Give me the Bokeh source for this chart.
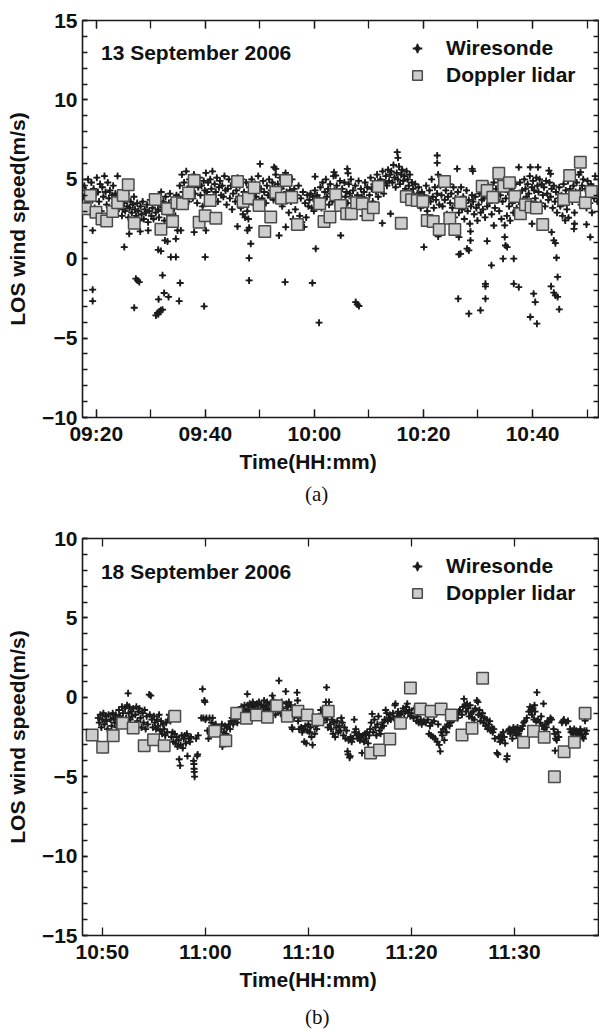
from bokeh.plotting import figure
from bokeh.models import (Range1d, FixedTicker, LinearAxis, Legend, LegendItem,
                          Label, Title, ColumnDataSource, Div)
from bokeh.layouts import column
from bokeh.embed import file_html
from bokeh.resources import INLINE

SANS = "Liberation Sans"
SERIF = "Liberation Serif"
INK = "#1a1a1a"

# ---------------- panel (a): 13 September 2006, minutes after 09:00 ----------------
lidar_a_time = [17.98, 18.90, 19.94, 21.04, 21.90, 23.0, 23.92, 24.94, 25.86, 26.96,
                30.80, 31.85, 33.07, 33.99, 34.78, 35.82, 36.92, 37.95, 38.86, 39.96, 40.88, 41.92,
                45.90, 46.92, 47.91, 48.94, 49.85, 50.90, 51.99, 52.91, 53.95, 54.80, 55.84, 56.88,
                60.97, 61.76, 62.85, 63.90, 64.81, 65.91, 66.77, 67.74, 68.79, 69.81, 70.80, 71.72,
                75.93, 76.85, 77.82, 78.86, 79.89, 80.69, 81.79, 82.89, 83.86, 84.83, 85.75, 86.79,
                90.77, 91.68, 92.71, 93.81, 94.72, 95.77, 96.74, 97.78,
                98.70, 99.74, 100.71, 101.87,
                105.71, 106.81, 107.73, 108.77, 109.69, 110.79]
lidar_a_speed = [3.14, 3.98, 2.93, 2.50, 2.37, 2.97, 3.52, 3.98, 4.65, 2.24,
                 3.73, 1.86, 3.14, 2.35, 3.52, 3.46, 4.13, 4.92, 2.30, 2.70, 3.67, 2.55,
                 4.86, 3.60, 3.81, 4.47, 3.35, 1.72, 2.62, 4.19, 3.81, 4.92, 3.87, 2.16,
                 3.46, 2.35, 2.62, 4.02, 3.35, 2.83, 2.83, 3.52, 3.46, 2.77, 3.21, 4.55,
                 2.24, 3.92, 3.71, 3.67, 3.60, 2.41, 2.35, 1.84, 4.86, 2.55, 1.84, 3.52,
                 4.57, 4.30, 3.87, 5.38, 4.57, 4.78, 3.92, 2.83,
                 3.40, 3.25, 3.20, 2.16,
                 3.73, 5.24, 3.92, 6.08, 3.52, 4.23]

wire_a_time = [
    17.6, 17.8, 17.95,
    18.1, 18.3, 18.5, 18.7, 18.9,
    19.1, 19.3, 19.5, 19.7, 19.9,
    20.1, 20.3, 20.5, 20.7, 20.9,
    21.1, 21.3, 21.5, 21.7, 21.9,
    22.1, 22.3, 22.5, 22.7, 22.9,
    23.1, 23.3, 23.5, 23.7, 23.9,
    24.1, 24.3, 24.5, 24.7, 24.9,
    25.1, 25.3, 25.5, 25.7, 25.9,
    26.1, 26.3, 26.5, 26.7, 26.9,
    27.1, 27.3, 27.5, 27.7, 27.9,
    28.1, 28.3, 28.5, 28.7, 28.9,
    29.1, 29.3, 29.5, 29.7, 29.9,
    30.1, 30.3, 30.5, 30.7, 30.9,
    31.1, 31.3, 31.5, 31.7, 31.9,
    32.1, 32.3, 32.5, 32.7, 32.9,
    33.1, 33.3, 33.5, 33.7, 33.9,
    34.1, 34.3, 34.5, 34.7, 34.9,
    35.1, 35.3, 35.5, 35.7, 35.9,
    36.1, 36.3, 36.5, 36.7, 36.9,
    37.1, 37.3, 37.5, 37.7, 37.9,
    38.1, 38.3, 38.5, 38.7, 38.9,
    39.1, 39.3, 39.5, 39.7, 39.9,
    40.1, 40.3, 40.5, 40.7, 40.9,
    41.1, 41.3, 41.5, 41.7, 41.9,
    42.1, 42.3, 42.5, 42.7, 42.9,
    43.1, 43.3, 43.5, 43.7, 43.9,
    44.1, 44.3, 44.5, 44.7, 44.9,
    45.1, 45.3, 45.5, 45.7, 45.9,
    46.1, 46.3, 46.5, 46.7, 46.9,
    47.1, 47.3, 47.5, 47.7, 47.9,
    48.1, 48.3, 48.5, 48.7, 48.9,
    49.1, 49.3, 49.5, 49.7, 49.9,
    50.2, 50.4, 50.6, 50.8,
    51.1, 51.3, 51.5, 51.7, 51.9,
    52.1, 52.3, 52.5, 52.7, 52.9,
    53.1, 53.3, 53.5, 53.7, 53.9,
    54.1, 54.3, 54.5, 54.7, 54.9,
    55.1, 55.3, 55.5, 55.7, 55.9,
    56.1, 56.3, 56.5, 56.7, 56.9,
    57.1, 57.3, 57.5, 57.7, 57.9,
    58.1, 58.3, 58.5, 58.7, 58.9,
    59.1, 59.3, 59.5, 59.7, 59.9,
    60.1, 60.3, 60.5, 60.7, 60.9,
    61.1, 61.3, 61.5, 61.7, 61.9,
    62.1, 62.3, 62.5, 62.7, 62.9,
    63.1, 63.3, 63.5, 63.7, 63.9,
    64.1, 64.3, 64.5, 64.7, 64.9,
    65.1, 65.3, 65.5, 65.7, 65.9,
    66.1, 66.3, 66.5, 66.7, 66.9,
    67.1, 67.3, 67.5, 67.7, 67.9,
    68.1, 68.3, 68.5, 68.7, 68.9,
    69.1, 69.3, 69.5, 69.7, 69.9,
    70.1, 70.3, 70.5, 70.7, 70.9,
    71.1, 71.3, 71.5, 71.7, 71.9,
    72.1, 72.3, 72.5, 72.7, 72.9,
    73.1, 73.3, 73.5, 73.7, 73.9,
    74.1, 74.3, 74.5, 74.7, 74.9,
    75.1, 75.3, 75.5, 75.7, 75.9,
    76.1, 76.3, 76.5, 76.7, 76.9,
    77.1, 77.3, 77.5, 77.7, 77.9,
    78.1, 78.3, 78.5, 78.7, 78.9,
    79.1, 79.3, 79.5, 79.7, 79.9,
    80.1, 80.3, 80.5, 80.7, 80.9,
    81.1, 81.3, 81.5, 81.7, 81.9,
    82.1, 82.3, 82.5, 82.7, 82.9,
    83.1, 83.3, 83.5, 83.7, 83.9,
    84.1, 84.3, 84.5, 84.7, 84.9,
    85.1, 85.3, 85.5, 85.7, 85.9,
    86.1, 86.3, 86.5, 86.7, 86.9,
    87.1, 87.3, 87.5, 87.7, 87.9,
    88.1, 88.3, 88.5, 88.7, 88.9,
    89.1, 89.3, 89.5, 89.7, 89.9,
    90.1, 90.3, 90.5, 90.7, 90.9,
    91.1, 91.3, 91.5, 91.7, 91.9,
    92.1, 92.3, 92.5, 92.7, 92.9,
    93.1, 93.3, 93.5, 93.7, 93.9,
    94.1, 94.3, 94.5, 94.7, 94.9,
    95.1, 95.3, 95.5, 95.7, 95.9,
    96.1, 96.3, 96.5, 96.7, 96.9,
    97.1, 97.3, 97.5, 97.7, 97.9,
    98.1, 98.3, 98.5, 98.7, 98.9,
    99.1, 99.3, 99.5, 99.7, 99.9,
    100.1, 100.3, 100.5, 100.7, 100.9,
    101.1, 101.3, 101.5, 101.7, 101.9,
    102.1, 102.3, 102.5, 102.7, 102.9,
    103.1, 103.3, 103.5, 103.7, 103.9,
    104.1, 104.3, 104.5, 104.7, 104.9,
    105.1, 105.3, 105.5, 105.7, 105.9,
    106.1, 106.3, 106.5, 106.7, 106.9,
    107.1, 107.3, 107.5, 107.7, 107.9,
    108.1, 108.3, 108.5, 108.7, 108.9,
    109.1, 109.3, 109.5, 109.7, 109.9,
    110.1, 110.3, 110.5, 110.7, 110.9,
    111.1, 111.3, 111.5, 111.7, 111.9,
]
wire_a_speed = [
    3.9, 4.6, 3.1,
    4.3, 3.5, 5.0, 4.0, 2.9,
    4.8, 3.7, 4.4, 3.2, 4.1,
    5.1, 4.2, 3.6, 4.7, 3.0,
    4.5, 3.9, 5.2, 4.2, 3.4,
    4.8, 3.8, 4.3, 2.8, 4.0,
    4.6, 3.5, 4.1, 3.0, 5.2,
    4.0, 3.3, 3.7, 2.7, 3.1,
    3.5, 3.0, 4.1, 3.3, 2.6,
    3.2, 3.6, 2.9, 3.4, 3.9,
    3.1, 2.7, 3.5, 3.0, 2.4,
    3.3, 2.8, 3.6, 2.5, 3.1,
    2.9, 3.4, 2.3, 3.0, 3.7,
    2.7, 3.2, 2.5, 3.5, 2.9,
    3.8, 3.1, 2.6, 3.4, 4.2,
    3.0, 3.6, 2.4, 3.9, 3.3,
    2.8, 3.5, 4.1, 3.0, 2.5,
    3.7, 3.2, 2.7, 4.0, 3.4,
    3.9, 4.6, 3.5, 5.3, 4.2,
    4.8, 3.9, 5.5, 4.4, 3.6,
    5.0, 4.3, 4.7, 3.8, 5.3,
    4.1, 4.9, 3.5, 4.5, 5.1,
    4.0, 4.6, 3.3, 4.9, 4.3,
    5.4, 4.2, 4.8, 3.7, 5.0,
    4.4, 5.5, 3.9, 4.7, 4.2,
    5.1, 3.6, 4.5, 4.9, 4.0,
    4.6, 3.9, 5.2, 4.3, 3.4,
    4.4, 5.0, 3.8, 4.6, 3.1,
    4.1, 4.8, 3.6, 4.3, 5.1,
    3.9, 4.6, 3.2, 5.0, 2.8,
    4.2, 2.6, 4.8, 3.0, 2.5,
    4.5, 3.6, 5.0, 4.1, 3.4,
    4.7, 3.9, 4.3, 5.2, 3.6,
    4.4, 3.8, 4.9, 4.2,
    3.5, 4.6, 4.0, 5.0, 3.9,
    4.3, 4.8, 3.7, 4.5, 5.3,
    4.1, 4.7, 3.9, 5.1, 4.4,
    3.3, 4.6, 4.0, 5.4, 4.2,
    4.8, 2.9, 4.3, 3.6, 5.0,
    2.5, 4.4, 3.1, 4.0, 2.2,
    4.6, 2.7, 3.8, 2.3, 4.2,
    2.0, 3.5, 2.6, 4.0, 3.3,
    3.7, 4.1, 3.2, 3.9, 3.0,
    4.3, 3.6, 4.0, 3.4, 3.8,
    4.5, 3.2, 4.8, 3.7, 4.2,
    5.0, 3.9, 4.4, 3.4, 4.7,
    4.1, 3.6, 5.2, 4.3, 3.8,
    4.6, 3.3, 4.0, 4.9, 3.7,
    4.4, 3.0, 4.8, 3.9, 4.2,
    3.5, 4.7, 4.1, 5.0, 3.8,
    4.3, 2.9, 4.6, 3.6, 4.0,
    4.9, 3.4, 4.4, 3.9, 2.7,
    4.2, 4.8, 3.7, 4.5, 3.3,
    4.0, 5.1, 4.4, 3.6, 4.7,
    4.9, 4.2, 5.3, 3.9, 4.6,
    5.0, 4.4, 5.5, 4.1, 4.8,
    5.2, 4.6, 5.6, 4.9, 5.3,
    5.5, 4.8, 5.9, 5.1, 4.5,
    5.4, 5.0, 5.8, 4.7, 5.3,
    5.6, 4.9, 5.2, 4.4, 5.5,
    5.0, 4.6, 5.3, 4.2, 4.8,
    4.4, 3.9, 4.7, 3.5, 4.1,
    4.5, 3.8, 3.2, 4.2, 3.6,
    4.0, 3.4, 4.6, 3.0, 3.8,
    4.3, 3.6, 5.0, 3.9, 3.2,
    4.5, 3.7, 4.1, 5.3, 3.4,
    4.6, 4.0, 3.3, 4.9, 3.7,
    4.3, 2.8, 3.9, 4.7, 3.5,
    4.1, 3.2, 4.5, 2.6, 3.8,
    3.4, 4.2, 2.9, 3.7, 4.5,
    3.1, 3.9, 2.5, 3.5, 4.3,
    3.0, 3.7, 2.2, 3.3, 4.0,
    3.6, 2.8, 3.9, 3.2, 2.4,
    3.4, 4.1, 2.9, 3.7, 3.1,
    3.8, 2.6, 4.3, 3.3, 4.6,
    3.5, 4.2, 2.8, 3.9, 4.8,
    3.2, 4.4, 3.7, 5.1, 3.0,
    4.0, 2.5, 3.6, 4.5, 2.1,
    3.8, 2.7, 4.2, 3.3, 2.4,
    4.4, 3.5, 2.9, 3.9, 4.7,
    3.2, 4.1, 3.6, 4.8, 3.0,
    4.3, 3.7, 5.0, 4.4, 3.9,
    4.7, 4.1, 5.2, 3.6, 4.5,
    4.9, 4.3, 3.8, 5.1, 4.6,
    4.2, 5.0, 3.5, 4.7, 4.0,
    4.5, 3.3, 4.9, 4.1, 3.7,
    4.8, 3.9, 4.4, 3.2, 4.6,
    3.6, 4.2, 2.9, 3.8, 4.5,
    3.3, 4.0, 2.7, 4.7, 3.5,
    4.3, 3.1, 4.9, 3.8, 4.4,
    5.1, 3.6, 4.6, 2.9, 4.2,
    4.8, 3.9, 5.3, 4.3, 3.4,
    4.6, 5.0, 3.7, 4.4, 3.2,
    4.9, 4.1, 3.5, 4.7, 2.9,
    4.3, 3.8, 5.2, 4.0, 3.6,
]

# isolated wiresonde readings away from the main band (panel a)
wire_a_out_time = [19.33, 19.33, 19.33, 25.13, 26.04, 26.96, 27.26, 27.57, 27.88, 28.06, 29.52,
                   31.36, 31.84, 32.15, 31.42, 32.45, 33.25, 30.93, 31.23, 31.54, 31.84, 32.15, 31.36,
                   32.58, 33.06, 33.67, 34.59, 34.59, 35.38, 35.2, 34.9, 35.5, 37.95, 39.96, 39.78, 40.1,
                   50.04, 45.89, 47.72, 48.03, 48.33, 48.03, 48.03, 53.52, 54.62, 54.74, 59.63, 60.24,
                   60.85, 64.82, 67.57, 67.87, 68.17,
                   52.6, 52.9, 60.12, 66.04, 66.16, 63.6, 63.9,
                   75.19, 75.32, 82.52, 82.52, 86.18, 88.93, 89.05, 97.48, 72.45, 73.97, 80.08, 82.7,
                   86.49, 86.79, 88.0, 88.32, 88.62, 88.62, 88.32, 90.46, 86.37, 91.37, 91.37, 91.37,
                   91.68, 92.47, 94.6, 96.56, 95.04, 95.34, 96.56, 97.48, 92.9, 94.9, 86.5,
                   99.6, 101.0, 99.9, 100.2, 100.5, 99.6, 100.8, 103.4, 103.9, 104.2, 104.6, 104.9,
                   104.6, 104.4, 104.2, 103.9, 103.5, 106.0, 106.6, 107.6, 107.7, 109.9, 110.6,
                   103.0, 103.3, 108.8]
wire_a_out_speed = [1.78, -1.95, -2.67, 0.73, 1.57, -3.09, -1.26, -1.37, -1.47, 1.72, 1.78,
                    0.56, 0.48, -1.05, -2.56, -2.16, -2.41, -3.57, -3.42, -3.32, -3.25, -3.21, -3.5,
                    1.15, 1.09, 0.1, 0.1, 1.25, -1.53, -2.67, 1.78, 1.78, 1.67, 0.1, -3.0, 1.78,
                    5.97, 2.03, 1.78, 1.95, 0.94, 0.04, -1.37, 1.46, -1.47, 1.99, -1.53, 0.63,
                    -4.03, 1.46, -2.73, -2.88, -2.98,
                    5.76, 5.66, 5.17, 5.66, 5.38, 5.45, 5.24,
                    6.71, 6.35, 6.5, 6.03, 5.66, 5.66, 5.51, 5.76, 2.24, 2.83, 0.73, 1.4,
                    0.27, 0.31, 0.63, 0.52, 1.15, 1.72, -3.46, -3.25, -2.52, -2.52, -1.58, -1.74,
                    1.11, -0.42, 0.0, 0.0, 0.83, 0.73, -1.58, -1.79, 2.09, 1.36, 1.36,
                    5.76, 5.76, 2.2, -2.2, -2.73, -3.67, -4.09, -1.74, -2.14, -2.31, -2.41, -3.19,
                    -1.15, 0.06, 0.98, 1.15, 1.67, 2.41, 2.58, 1.88, 2.2, 2.16, 1.36,
                    5.55, 5.34, 5.45]

x_range_a = (17.47, 112.1)
y_range_a = (-10, 15)
x_ticks_a = [20, 40, 60, 80, 100]
x_tick_labels_a = ["09:20", "09:40", "10:00", "10:20", "10:40"]
x_minor_a = [20, 30, 40, 50, 60, 70, 80, 90, 100, 110]
y_ticks_a = [-10, -5, 0, 5, 10, 15]
y_minor_a = [-10, -9, -8, -7, -6, -5, -4, -3, -2, -1, 0, 1, 2, 3, 4, 5,
             6, 7, 8, 9, 10, 11, 12, 13, 14, 15]

# ---------------- panel (b): 18 September 2006, minutes after 10:00 ----------------
lidar_b_time = [49.0, 50.03, 51.05, 51.97, 52.99, 54.06, 54.97, 56.0, 57.03,
                60.91, 61.98, 63.04, 63.98, 64.95, 66.02, 66.92, 67.95, 68.98, 69.89, 70.92, 71.93,
                76.03, 76.9, 77.9, 78.93, 79.9, 80.87, 81.91, 82.88, 83.87, 84.91, 85.88, 86.91,
                90.88, 91.85, 92.89, 93.88, 94.82, 95.82, 96.86]
lidar_b_speed = [-2.37, -3.15, -2.42, -1.64, -1.93, -3.05, -2.67, -3.05, -1.2,
                 -2.14, -2.73, -1.01, -1.32, -1.11, -1.26, -0.53, -1.2, -0.88, -1.11, -1.41, -0.88,
                 -3.51, -3.32, -2.63, -1.64, 0.59, -0.74, -0.88, -0.74, -1.11, -2.37, -1.95, 1.2,
                 -2.83, -2.14, -2.52, -5.0, -3.43, -2.83, -1.01]

wire_b_time = [
    49.6, 49.7, 49.8, 49.9,
    50.0, 50.1, 50.2, 50.3, 50.4, 50.5, 50.6, 50.8, 50.9,
    51.0, 51.1, 51.2, 51.3, 51.4, 51.5, 51.6, 51.7, 51.8, 51.9,
    52.0, 52.1, 52.2, 52.3, 52.4, 52.5, 52.55, 52.6, 52.7, 52.8, 52.9,
    53.0, 53.1, 53.2, 53.3, 53.4, 53.5, 53.6, 53.7, 53.8, 53.9,
    54.0, 54.1, 54.2, 54.3, 54.4, 54.55, 54.6, 54.7, 54.8, 54.9,
    55.0, 55.1, 55.2, 55.3, 55.4, 55.5, 55.6, 55.7, 55.8, 55.9,
    56.0, 56.1, 56.2, 56.3, 56.4, 56.5, 56.6, 56.7, 56.8, 56.9,
    57.0, 57.1, 57.2, 57.3, 57.4, 57.46, 57.55, 57.6, 57.7, 57.8, 57.9,
    58.0, 58.1, 58.2, 58.26, 58.4, 58.5, 58.6, 58.85, 58.88, 58.9, 58.92, 58.95,
    59.1, 59.2, 59.25, 59.3, 59.6, 59.72, 59.8, 59.9, 59.95,
    60.0, 60.1, 60.2, 60.3, 60.4, 60.5, 60.6, 60.7, 60.8, 60.9,
    61.0, 61.2, 61.3, 61.5, 61.6, 61.65, 61.7, 61.8, 61.9,
    62.0, 62.1, 62.2, 62.3, 62.4, 62.5, 62.6, 62.7, 62.8, 62.9,
    63.0, 63.1, 63.2, 63.3, 63.4, 63.5, 63.6, 63.7, 63.8, 63.9,
    64.07, 64.1, 64.2, 64.3, 64.4, 64.5, 64.6, 64.7, 64.8, 64.9,
    65.0, 65.1, 65.2, 65.3, 65.4, 65.5, 65.6, 65.7, 65.8, 65.9,
    66.0, 66.1, 66.2, 66.3, 66.4, 66.5, 66.6, 66.7, 66.8, 66.9,
    67.0, 67.14, 67.2, 67.3, 67.4, 67.5, 67.6, 67.8, 67.85, 67.9,
    68.0, 68.1, 68.2, 68.3, 68.4, 68.45, 68.5, 68.6, 68.7, 68.8, 68.9, 68.95,
    69.0, 69.1, 69.2, 69.3, 69.4, 69.5, 69.6, 69.7, 69.8, 69.9,
    70.0, 70.1, 70.2, 70.3, 70.4, 70.5, 70.6, 70.7, 70.8, 70.9,
    71.0, 71.1, 71.2, 71.3, 71.4, 71.5, 71.6, 71.7, 71.76, 71.8, 71.9,
    72.0, 72.1, 72.2, 72.3, 72.4, 72.5, 72.6, 72.7, 72.8, 72.9,
    73.0, 73.1, 73.2, 73.3, 73.4, 73.5, 73.6, 73.7, 73.8, 73.85, 73.9,
    74.0, 74.05, 74.1, 74.2, 74.3, 74.45, 74.5, 74.6, 74.7, 74.8, 74.9,
    75.0, 75.1, 75.2, 75.3, 75.4, 75.5, 75.6, 75.7, 75.8, 75.9,
    76.0, 76.1, 76.19, 76.3, 76.4, 76.5, 76.6, 76.7, 76.8, 76.9,
    77.0, 77.1, 77.2, 77.3, 77.4, 77.5, 77.6, 77.7, 77.8, 77.9,
    78.0, 78.2, 78.3, 78.4, 78.45, 78.6, 78.7, 78.8, 78.9,
    79.0, 79.2, 79.3, 79.4, 79.5, 79.6, 79.7, 79.8, 79.9,
    80.0, 80.2, 80.3, 80.5, 80.6, 80.7, 80.9,
    81.0, 81.2, 81.4, 81.6, 81.7, 81.8, 81.9,
    82.0, 82.1, 82.2, 82.3, 82.5, 82.6, 82.7, 82.8, 82.9,
    83.0, 83.1, 83.2, 83.3, 83.4, 83.5, 83.7, 83.8, 83.9,
    84.1, 84.2, 84.4, 84.5, 84.6, 84.7, 84.9,
    85.0, 85.1, 85.2, 85.3, 85.4, 85.5, 85.6, 85.7, 85.8, 85.9,
    86.0, 86.1, 86.2, 86.35, 86.45, 86.5, 86.6, 86.7, 86.8, 86.9,
    87.0, 87.1, 87.2, 87.3, 87.4, 87.5, 87.6, 87.7, 87.8, 87.9,
    88.0, 88.1, 88.3, 88.4, 88.5, 88.6, 88.7, 88.8, 88.9,
    89.0, 89.1, 89.25, 89.3, 89.4, 89.5, 89.6, 89.7, 89.8, 89.9,
    90.0, 90.1, 90.2, 90.3, 90.4, 90.5, 90.6, 90.7, 90.8, 90.9,
    91.0, 91.2, 91.4, 91.5, 91.6, 91.7, 91.8, 91.9, 91.95,
    92.0, 92.1, 92.18, 92.3, 92.5, 92.6, 92.7, 92.82, 92.9,
    93.0, 93.1, 93.2, 93.3, 93.5, 93.6, 93.8, 93.9, 93.95,
    94.0, 94.1, 94.2, 94.3, 94.6, 94.7, 94.8, 95.0,
    95.2, 95.4, 95.5, 95.6, 95.7, 95.8, 95.9,
    96.0, 96.1, 96.2, 96.3, 96.4, 96.5, 96.6, 96.7, 96.8, 96.86, 96.9, 97.0,
]
wire_b_speed = [
    -1.3, -1.6, -1.1, -1.9,
    -1.4, -1.0, -1.7, -1.2, -1.5, -2.0, -1.1, -1.4, -1.8,
    -1.0, -1.3, -1.6, -1.1, -1.9, -1.4, -0.8, -1.2, -1.5, -0.6,
    -1.0, -1.7, -0.7, -1.3, -0.5, 0.25, -1.0, -0.6, -1.4, -0.9, -1.2,
    -0.7, -1.8, -1.1, -0.6, -1.5, -0.9, -0.7, -1.3, -1.9, -1.0,
    -1.6, -0.8, -2.0, -1.2, -1.7, 0.17, -1.1, 0.1, -1.4, -1.9,
    -1.2, -1.6, -2.0, -1.4, -1.8, -1.1, -2.1, -1.5, -2.3, -1.7,
    -2.0, -2.4, -1.6, -2.2, -1.4, -1.1, -1.5, -2.5, -2.2, -2.8,
    -2.3, -2.9, -2.5, -3.1, -2.7, -3.9, -4.3, -3.0, -2.4, -3.2, -2.6,
    -2.4, -2.9, -2.3, -3.7, -2.6, -2.8, -2.5, -4.0, -4.2, -4.5, -4.7, -5.0,
    -2.6, -3.7, -3.6, -2.4, -1.3, 0.52, -1.3, -0.2, -0.3,
    -1.4, -1.3, -2.1, -2.6, -1.3, -2.3, -1.6, -1.3, -1.8, -2.2,
    -1.7, -1.9, -2.1, -2.0, -1.7, -3.1, -2.4, -2.2, -1.8,
    -2.3, -1.9, -2.5, -1.7, -2.0, -1.5, -1.3, -1.7, -1.1, -1.4,
    -1.0, -1.6, -0.8, -1.2, -0.9, -0.6, -1.1, -0.7, -0.5, -0.9,
    0.2, -0.5, -0.8, -0.4, -0.9, -0.6, -0.3, -0.8, -0.5, -1.0,
    -0.4, -0.7, -0.3, -0.9, -0.5, -1.1, -0.6, -0.2, -0.8, -0.5,
    -0.3, -0.7, -1.0, -0.4, -0.8, 0.1, -0.2, -0.6, -1.1, -0.4,
    -0.8, 1.05, -0.5, -1.0, -0.3, -0.7, -1.2, 0.37, -0.4, -0.9,
    -0.6, -0.3, -1.0, -0.5, -1.9, -2.0, -0.8, -1.3, -0.6, -1.1, 0.3, -0.2,
    -1.5, -2.0, -1.2, -1.9, -2.2, -2.0, -2.8, -1.8, -2.9, -2.1,
    -1.7, -2.2, -1.9, -2.5, -3.0, -1.5, -2.3, -1.8, -2.0, -1.6,
    -1.2, -1.5, -0.8, -1.1, -1.6, -0.9, -1.3, -0.3, 0.62, -1.4, -1.9,
    -0.3, -1.7, -2.0, -1.4, -2.3, -1.6, -2.5, -1.9, -1.5, -2.2,
    -1.8, -2.1, -1.3, -1.6, -2.4, -1.9, -2.6, -2.1, -3.4, -3.6, -2.7,
    -3.8, -3.7, -2.5, -2.8, -2.6, -1.4, -2.2, -2.0, -2.4, -2.6, -2.3,
    -2.7, -2.5, -3.5, -2.4, -2.8, -2.3, -2.6, -2.2, -2.9, -2.4,
    -2.0, -1.6, -1.05, -2.2, -1.4, -1.9, -2.4, -1.7, -1.2, -2.1,
    -2.3, -1.9, -1.6, -1.8, -1.4, -0.8, -1.0, -1.5, -1.3, -1.1,
    -1.4, -1.0, -1.3, -0.5, -0.4, -1.2, -0.9, -1.4, -1.1,
    -1.0, -0.7, -1.3, -0.9, -0.6, -0.4, -1.0, -0.8, -1.2,
    -1.0, -1.3, -0.7, -1.5, -1.2, -1.6, -1.4,
    -1.7, -1.5, -1.6, -1.4, -2.3, -1.8, -2.4,
    -1.6, -2.5, -1.5, -2.6, -2.8, -1.7, -3.0, -3.4, -2.2,
    -2.4, -2.0, -2.7, -1.9, -2.2, -1.7, -1.8, -1.6, -1.5,
    -1.4, -1.2, -1.0, -1.3, -0.9, -0.8, -1.1,
    -0.6, -0.1, -0.5, -0.9, -0.4, -0.7, -1.2, -0.5, -1.0, -1.3,
    -0.9, -1.4, -0.7, -0.2, -0.3, -1.1, -0.8, -1.5, -1.2, -1.0,
    -1.6, -1.3, -1.8, -1.4, -2.0, -1.7, -1.5, -2.1, -1.9, -2.2,
    -2.0, -2.6, -3.5, -3.6, -2.5, -2.8, -2.4, -2.7, -2.2,
    -2.5, -2.9, -3.9, -3.7, -2.1, -2.0, -2.3, -2.1, -2.6, -1.9,
    -2.2, -2.0, -2.4, -1.9, -2.3, -2.1, -2.6, -2.0, -1.8, -1.6,
    -1.5, -1.3, -0.9, -0.6, -0.8, -1.1, -0.7, -1.4, -0.5,
    -0.9, -1.5, 0.31, -1.4, -1.6, -1.2, -1.8, -0.4, -2.0,
    -1.7, -1.9, -1.5, -1.6, -1.3, -1.4, -2.0, -2.3, -3.36,
    -2.6, -2.7, -2.2, -2.5, -1.6, -1.5, -1.4, -1.6,
    -1.5, -2.0, -2.2, -2.1, -2.3, -2.0, -2.2,
    -2.1, -2.3, -2.4, -2.2, -2.0, -2.3, -2.5, -2.6, -2.1, -1.47, -2.3, -2.1,
]

x_range_b = (48.07, 98.16)
y_range_b = (-15, 10)
x_ticks_b = [50, 60, 70, 80, 90]
x_tick_labels_b = ["10:50", "11:00", "11:10", "11:20", "11:30"]
x_minor_b = []
y_ticks_b = [-15, -10, -5, 0, 5, 10]
y_minor_b = [-15, -14, -13, -12, -11, -10, -9, -8, -7, -6, -5, -4, -3, -2, -1, 0,
             1, 2, 3, 4, 5, 6, 7, 8, 9, 10]


def style_axis(ax, tick_len, show_labels):
    ax.axis_line_color = None
    ax.major_tick_in = tick_len
    ax.major_tick_out = 0
    ax.minor_tick_in = tick_len
    ax.minor_tick_out = 0
    ax.major_tick_line_color = INK
    ax.minor_tick_line_color = INK
    ax.major_tick_line_width = 1.3
    ax.minor_tick_line_width = 1.3
    ax.major_label_text_font = SANS
    ax.major_label_text_font_style = "bold"
    ax.major_label_text_color = "#111111"
    if show_labels:
        ax.major_label_text_font_size = "21px"
    else:
        ax.major_label_text_font_size = "0px"
        ax.major_label_text_alpha = 0
        ax.major_label_standoff = 0


def make_panel(wt, wv, ot, ov, lt, lv, xr, yr, xt, xl, xminor, yt, yminor,
               date_text, date_x, date_y, height, top_border, bottom_border):
    p = figure(width=599, height=height, output_backend="svg", toolbar_location=None,
               x_range=Range1d(*xr), y_range=Range1d(*yr),
               min_border_left=82, min_border_right=1,
               min_border_top=top_border, min_border_bottom=bottom_border,
               background_fill_color="white", border_fill_color="white")
    p.grid.visible = False
    p.outline_line_color = INK
    p.outline_line_width = 1.6
    p.outline_line_alpha = 1.0

    xtick = FixedTicker(ticks=xt, minor_ticks=xminor)
    ytick = FixedTicker(ticks=yt, minor_ticks=yminor)

    bottom = p.below[0]
    bottom.ticker = xtick
    bottom.major_label_overrides = {t: s for t, s in zip(xt, xl)}
    style_axis(bottom, 8, True)
    bottom.major_label_standoff = 4

    left = p.left[0]
    left.ticker = ytick
    style_axis(left, 5, True)
    left.major_label_standoff = 5
    left.axis_label = "LOS wind speed(m/s)"
    left.axis_label_text_font = SANS
    left.axis_label_text_font_style = "bold"
    left.axis_label_text_font_size = "21px"
    left.axis_label_text_color = "#111111"
    left.axis_label_standoff = 10

    top = LinearAxis(ticker=xtick)
    style_axis(top, 8, False)
    p.add_layout(top, "above")
    right = LinearAxis(ticker=ytick)
    style_axis(right, 5, False)
    p.add_layout(right, "right")

    wsrc = ColumnDataSource(dict(t=wt + ot, v=wv + ov))
    lsrc = ColumnDataSource(dict(t=lt, v=lv))
    r1 = p.scatter("t", "v", source=wsrc, marker="cross", size=7,
                   line_color="#1c1c1c", line_width=1.8)
    r2 = p.scatter("t", "v", source=wsrc, marker="diamond", size=5.5,
                   fill_color="#1c1c1c", line_color=None)
    r3 = p.scatter("t", "v", source=lsrc, marker="square", size=11.5,
                   fill_color="#cdcdcd", line_color="#4a4a4a", line_width=1.5)

    legend = Legend(items=[LegendItem(label="Wiresonde", renderers=[r1, r2]),
                           LegendItem(label="Doppler lidar", renderers=[r3])],
                    location=(323, 330), orientation="vertical",
                    border_line_alpha=0, background_fill_alpha=0,
                    label_text_font=SANS, label_text_font_style="bold",
                    label_text_font_size="21px", label_text_color="#111111",
                    glyph_width=24, glyph_height=24, label_height=24,
                    label_standoff=17, spacing=3, padding=0, margin=0)
    p.add_layout(legend)

    p.add_layout(Label(x=date_x, y=date_y, text=date_text, text_font=SANS,
                       text_font_style="bold", text_font_size="21px",
                       text_baseline="middle", text_color="#111111"))

    p.add_layout(Title(text="Time(HH:mm)", align="left", offset=157, text_font=SANS,
                       text_font_style="bold", text_font_size="21px",
                       text_color="#111111", standoff=0), "below")
    return p


def make_caption(text, height, pad_top):
    html = ('<div style="padding-left:305px;padding-top:%dpx;'
            'font-family:\'Liberation Serif\',serif;font-size:21px;line-height:24px;'
            'color:#111111;margin:0;">%s</div>' % (pad_top, text))
    return Div(text=html, width=599, height=height, margin=(0, 0, 0, 0))


pa = make_panel(wire_a_time, wire_a_speed, wire_a_out_time, wire_a_out_speed,
                lidar_a_time, lidar_a_speed, x_range_a, y_range_a,
                x_ticks_a, x_tick_labels_a, x_minor_a, y_ticks_a, y_minor_a,
                "13 September 2006", 20.86, 12.99, 481, 20, 64)
cap_a = make_caption("(a)", 37, 1)
pb = make_panel(wire_b_time, wire_b_speed, [], [],
                lidar_b_time, lidar_b_speed, x_range_b, y_range_b,
                x_ticks_b, x_tick_labels_b, x_minor_b, y_ticks_b, y_minor_b,
                "18 September 2006", 49.86, 7.9, 481, 20, 64)
cap_b = make_caption("(b)", 32, 6)

layout = column(pa, cap_a, pb, cap_b, spacing=0)
open("out.html", "w").write(file_html(layout, INLINE))
